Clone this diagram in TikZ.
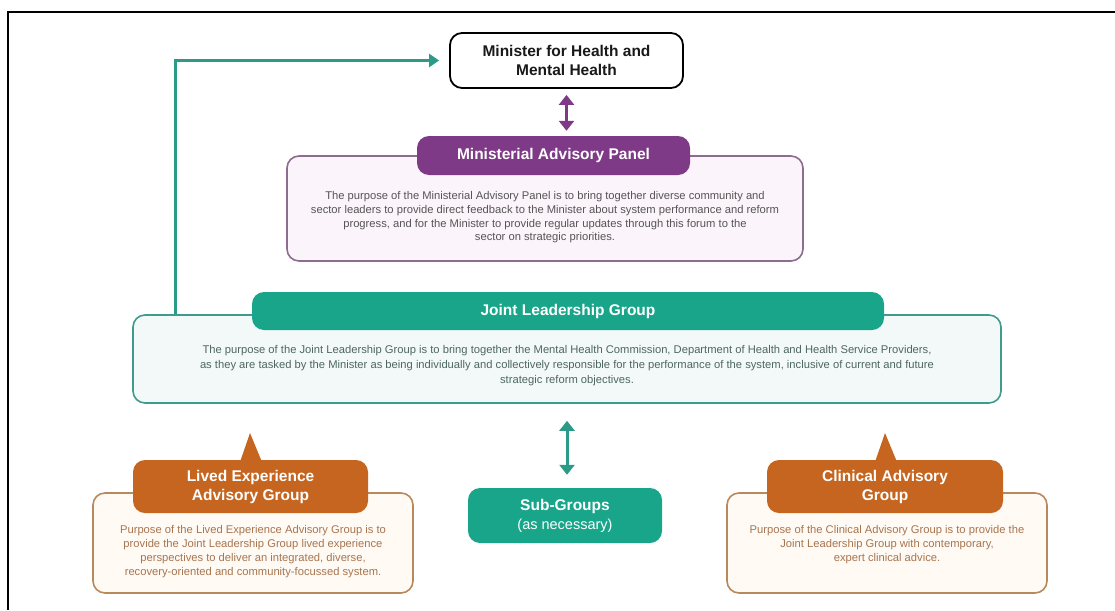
\documentclass[tikz,border=0pt]{standalone}
\usepackage{fontspec}
\setmainfont{Liberation Sans}
\usetikzlibrary{arrows.meta}
\definecolor{purp}{HTML}{7E3A87}
\definecolor{mapborder}{HTML}{8C6C8F}
\definecolor{mapfill}{HTML}{FBF4FA}
\definecolor{tealc}{HTML}{18A58A}
\definecolor{tealline}{HTML}{2B9B87}
\definecolor{jlgborder}{HTML}{3F9C8C}
\definecolor{jlgfill}{HTML}{F3F9F8}
\definecolor{orangec}{HTML}{C5651F}
\definecolor{orborder}{HTML}{B9895E}
\definecolor{orfill}{HTML}{FFFAF4}
\definecolor{ortext}{HTML}{A77550}
\definecolor{graytext}{HTML}{555555}
\definecolor{jlgtext}{HTML}{4E6662}
\begin{document}
\begin{tikzpicture}[x=1pt,y=-1pt,
  bodybox/.style={line width=1.6pt, rounded corners=12pt, inner sep=0pt},
  headbox/.style={rounded corners=12pt, inner sep=0pt, text=white, align=center,
    font=\fontsize{15.5}{19}\selectfont\bfseries},
  bodytext/.style={align=center, inner sep=0pt, font=\fontsize{11.2}{14}\selectfont},
  dblarrow/.style={line width=3pt, {Triangle[length=10pt,width=15pt]}-{Triangle[length=10pt,width=15pt]}}
]
\useasboundingbox (0,0) rectangle (1115,610);
% frame
\draw[line width=1.4pt] (8,610) -- (8,12) -- (1115,12);

% Minister
\node[draw=black, line width=1.8pt, rounded corners=12pt, fill=white,
  minimum width=233pt, minimum height=55pt, inner sep=0pt, align=center,
  font=\fontsize{15.5}{18.5}\selectfont\bfseries, text={black!90}] (min) at (566.5,60.5)
  {Minister for Health and\\Mental Health};

% Ministerial Advisory Panel
\node[bodybox, draw=mapborder, fill=mapfill, minimum width=516pt, minimum height=105pt] (mapbody) at (545,208.5) {};
\node[headbox, fill=purp, minimum width=273pt, minimum height=39pt] (maphead) at (553.5,155.5) {Ministerial Advisory Panel};
\node[bodytext, text=graytext, font=\fontsize{11.2}{13.7}\selectfont] (maptext) at (545,217.5)
  {The purpose of the Ministerial Advisory Panel is to bring together diverse community and\\
   sector leaders to provide direct feedback to the Minister about system performance and reform\\
   progress, and for the Minister to provide regular updates through this forum to the\\
   sector on strategic priorities.};
\draw[purp, dblarrow, shorten <=6pt, shorten >=5pt] (min.south) -- (min.south |- maphead.north);

% Joint Leadership Group
\node[bodybox, draw=jlgborder, fill=jlgfill, minimum width=868pt, minimum height=88pt] (jlgbody) at (567,359) {};
\node[headbox, fill=tealc, minimum width=632pt, minimum height=38pt] (jlghead) at (568,311) {Joint Leadership Group};
\node[bodytext, text=jlgtext, font=\fontsize{11.2}{15}\selectfont] (jlgtext) at (567,365.5)
  {The purpose of the Joint Leadership Group is to bring together the Mental Health Commission, Department of Health and Health Service Providers,\\
   as they are tasked by the Minister as being individually and collectively responsible for the performance of the system, inclusive of current and future\\
   strategic reform objectives.};

% teal connector to Minister
\coordinate (corner) at (175,60.5);
\draw[tealline, line width=3pt, line join=miter, -{Triangle[length=10pt,width=13pt]}, shorten >=10pt]
  (corner |- jlgbody.north) -- (corner) -- (min.west);

% Sub-Groups
\node[rounded corners=12pt, fill=tealc, minimum width=194pt, minimum height=55pt, inner sep=0pt,
  align=center, text=white, font=\fontsize{15.5}{19}\selectfont] (sub) at (565,515.5)
  {{\bfseries Sub-Groups}\\{\fontsize{14.5}{19}\selectfont (as necessary)}};
\draw[tealline, dblarrow, shorten <=17pt, shorten >=13pt] (jlgbody.south) -- (jlgbody.south |- sub.north);

% Lived Experience Advisory Group
\node[bodybox, draw=orborder, fill=orfill, minimum width=320pt, minimum height=100pt] (lebody) at (253,543) {};
\coordinate (letip) at (250,433);
\coordinate (lebl) at (240,462);
\coordinate (lebr) at (262,462);
\fill[orangec] (letip) -- (lebr) -- (lebl) -- cycle;
\node[headbox, fill=orangec, minimum width=235pt, minimum height=53pt] (lehead) at (250.5,486.5)
  {Lived Experience\\Advisory Group};
\node[bodytext, text=ortext] (letext) at (253,551.5)
  {Purpose of the Lived Experience Advisory Group is to\\
   provide the Joint Leadership Group lived experience\\
   perspectives to deliver an integrated, diverse,\\
   recovery-oriented and community-focussed system.};

% Clinical Advisory Group
\node[bodybox, draw=orborder, fill=orfill, minimum width=320pt, minimum height=100pt] (cagbody) at (887,543) {};
\coordinate (cagtip) at (885,433);
\coordinate (cagbl) at (875,462);
\coordinate (cagbr) at (897,462);
\fill[orangec] (cagtip) -- (cagbr) -- (cagbl) -- cycle;
\node[headbox, fill=orangec, minimum width=236pt, minimum height=53pt] (caghead) at (885,486.5)
  {Clinical Advisory\\Group};
\node[bodytext, text=ortext] (cagtext) at (887,545)
  {Purpose of the Clinical Advisory Group is to provide the\\
   Joint Leadership Group with contemporary,\\
   expert clinical advice.};
\end{tikzpicture}
\end{document}
